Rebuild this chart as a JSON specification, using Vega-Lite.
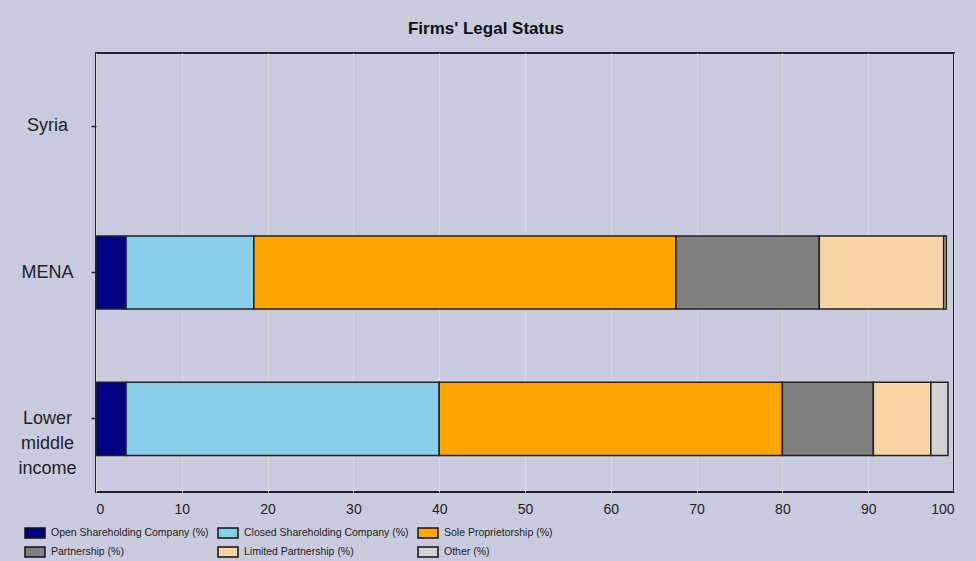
{
  "$schema": "https://vega.github.io/schema/vega-lite/v6.json",
  "width": 858,
  "height": 439,
  "autosize": {"type": "none"},
  "padding": {"left": 96, "top": 53, "right": 22, "bottom": 69},
  "background": "#CBCBDF",
  "title": {
    "text": "Firms' Legal Status",
    "font": "Liberation Sans",
    "fontSize": 17,
    "fontWeight": "bold",
    "color": "#111111",
    "anchor": "middle",
    "frame": "bounds",
    "offset": 15
  },
  "config": {
    "view": {"stroke": "#222222", "strokeWidth": 2, "fill": "#CBCBDF"}
  },
  "data": {
    "values": [
      {"region": "MENA", "category": "Open Shareholding Company (%)", "value": 3.5, "order": 1},
      {"region": "MENA", "category": "Closed Shareholding Company (%)", "value": 14.9, "order": 2},
      {"region": "MENA", "category": "Sole Proprietorship  (%)", "value": 49.2, "order": 3},
      {"region": "MENA", "category": "Partnership  (%)", "value": 16.7, "order": 4},
      {"region": "MENA", "category": "Limited Partnership (%)", "value": 14.5, "order": 5},
      {"region": "MENA", "category": "Other  (%)", "value": 0.3, "order": 6},
      {"region": "Lower middle income", "category": "Open Shareholding Company (%)", "value": 3.5, "order": 1},
      {"region": "Lower middle income", "category": "Closed Shareholding Company (%)", "value": 36.5, "order": 2},
      {"region": "Lower middle income", "category": "Sole Proprietorship  (%)", "value": 40.0, "order": 3},
      {"region": "Lower middle income", "category": "Partnership  (%)", "value": 10.6, "order": 4},
      {"region": "Lower middle income", "category": "Limited Partnership (%)", "value": 6.7, "order": 5},
      {"region": "Lower middle income", "category": "Other  (%)", "value": 2.0, "order": 6}
    ]
  },
  "mark": {"type": "bar", "stroke": "#222222", "strokeWidth": 1.5},
  "encoding": {
    "y": {
      "field": "region",
      "type": "nominal",
      "title": null,
      "scale": {"domain": ["Syria", "MENA", "Lower middle income"], "paddingInner": 0.5, "paddingOuter": 0.25},
      "axis": {
        "domain": false,
        "ticks": true,
        "tickSize": 5,
        "tickColor": "#222222",
        "tickWidth": 1.5,
        "labelAlign": "center",
        "labelBaseline": "middle",
        "labelPadding": 44,
        "labelFont": "Liberation Sans",
        "labelFontSize": 18,
        "labelLineHeight": 25,
        "labelColor": "#222222",
        "labelExpr": "datum.value == 'Lower middle income' ? ['Lower', 'middle', 'income'] : datum.label"
      }
    },
    "x": {
      "field": "value",
      "type": "quantitative",
      "stack": "zero",
      "title": null,
      "scale": {"domain": [0, 100], "nice": false},
      "axis": {
        "values": [0, 10, 20, 30, 40, 50, 60, 70, 80, 90, 100],
        "domain": false,
        "ticks": false,
        "grid": true,
        "gridColor": "#D9D9DE",
        "gridWidth": 1,
        "labelPadding": 10,
        "labelFont": "Liberation Sans",
        "labelFontSize": 14,
        "labelColor": "#222222"
      }
    },
    "color": {
      "field": "category",
      "type": "nominal",
      "scale": {
        "domain": ["Open Shareholding Company (%)", "Closed Shareholding Company (%)", "Sole Proprietorship  (%)", "Partnership  (%)", "Limited Partnership (%)", "Other  (%)"],
        "range": ["#000080", "#87CEEB", "#FFA500", "#808080", "#F8D4A6", "#D3D3D3"]
      },
      "legend": {
        "title": null,
        "orient": "none",
        "legendX": -72,
        "legendY": 469,
        "direction": "horizontal",
        "columns": 3,
        "padding": 0,
        "symbolType": "M-1,-0.5H1V0.5H-1Z",
        "symbolSize": 400,
        "symbolStrokeColor": "#111111",
        "symbolStrokeWidth": 1.5,
        "symbolOpacity": 1,
        "labelFont": "Liberation Sans",
        "labelFontSize": 10.5,
        "labelColor": "#222222",
        "labelOffset": 5,
        "rowPadding": -3,
        "columnPadding": 6,
        "labelLimit": 300
      }
    },
    "order": {"field": "order", "type": "quantitative"}
  }
}
